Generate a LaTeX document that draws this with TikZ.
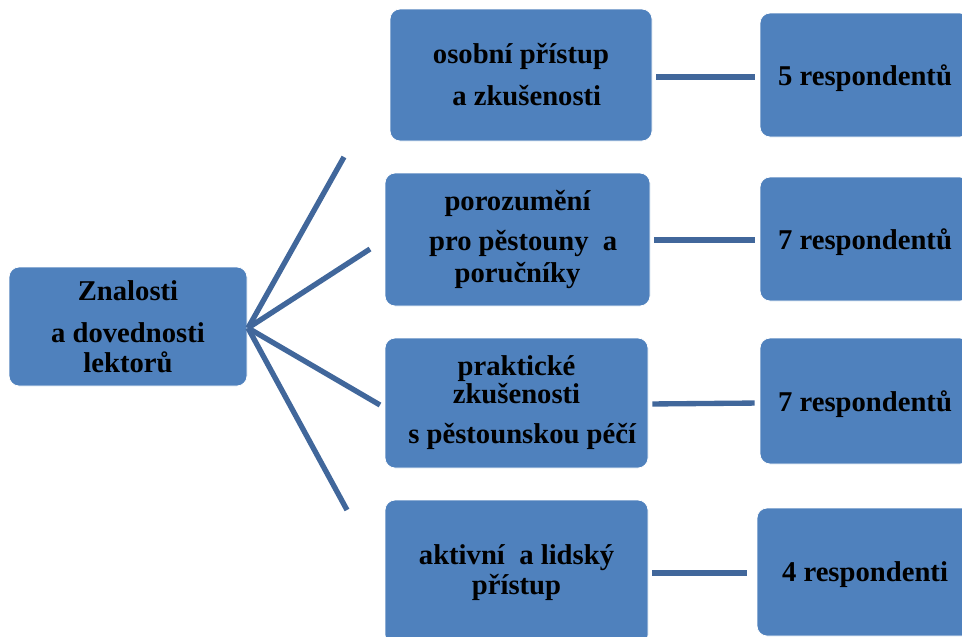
\documentclass[tikz,border=0pt]{standalone}
\usepackage{fontspec}
\setmainfont{Liberation Serif}
\definecolor{boxfill}{HTML}{4F81BD}
\definecolor{linecol}{RGB}{65,103,155}
\begin{document}
\begin{tikzpicture}[x=0.75pt,y=-0.75pt,
  box/.style={fill=boxfill,draw=white,line width=0.6pt,rounded corners=7.5pt,inner sep=0pt,
    align=center,text=black,font=\fontsize{21.5}{24}\selectfont\bfseries},
  rbox/.style={box,text depth=0pt},
  conn/.style={draw=linecol,line width=4pt},
  hconn/.style={conn,shorten <=3pt,shorten >=3.75pt}]
\useasboundingbox (0,0) rectangle (962,636);
\clip (0,0) rectangle (962,636);
\node[box,minimum width=238*0.75pt,minimum height=119*0.75pt] (L) at (128,326.5)
  {Znalosti\\[7.5pt]a dovednosti\\[-1.5pt]lektorů};
\node[box,minimum width=262*0.75pt,minimum height=132*0.75pt] (B1) at (521,75)
  {osobní přístup\\[7.5pt]\hspace*{0.4em}a zkušenosti};
\node[box,minimum width=265*0.75pt,minimum height=133*0.75pt] (B2) at (517.5,239.5)
  {porozumění\\[6pt]\hspace*{0.4em}pro pěstouny\ \ a\\[0pt]poručníky};
\node[box,minimum width=263*0.75pt,minimum height=130*0.75pt] (B3) at (516.5,403)
  {praktické\\[-3pt]zkušenosti\\[6pt]\hspace*{0.4em}s pěstounskou\ péčí};
\node[box,minimum width=263*0.75pt,minimum height=145*0.75pt] (B4) at (516.5,572.5)
  {aktivní\ \ a lidský\\[-1.5pt]přístup};
\node[rbox,minimum width=210*0.75pt,minimum height=124*0.75pt] (R1) at (865,75) {5 respondentů};
\node[rbox,minimum width=210*0.75pt,minimum height=124*0.75pt] (R2) at (865,239) {7 respondentů};
\node[rbox,minimum width=210*0.75pt,minimum height=126*0.75pt] (R3) at (865,401) {7 respondentů};
\node[rbox,minimum width=216*0.75pt,minimum height=128*0.75pt] (R4) at (865,572) {4 respondenti};
\coordinate (hub) at (248,328);
\coordinate (e1) at (344,157);
\coordinate (e2) at (370,249);
\coordinate (e3) at (380,405);
\coordinate (e4) at (347,510);
\draw[conn] (hub) -- (e1);
\draw[conn] (hub) -- (e2);
\draw[conn] (hub) -- (e3);
\draw[conn] (hub) -- (e4);
\draw[hconn] (B1.east |- 0,77) -- (R1.west |- 0,77);
\draw[hconn] (B2.east |- 0,240) -- (R2.west |- 0,240);
\draw[hconn] (B3.east |- 0,404) -- (R3.west |- 0,403);
\draw[hconn,shorten >=7pt] (B4.east |- 0,573) -- (R4.west |- 0,573);
\end{tikzpicture}
\end{document}
